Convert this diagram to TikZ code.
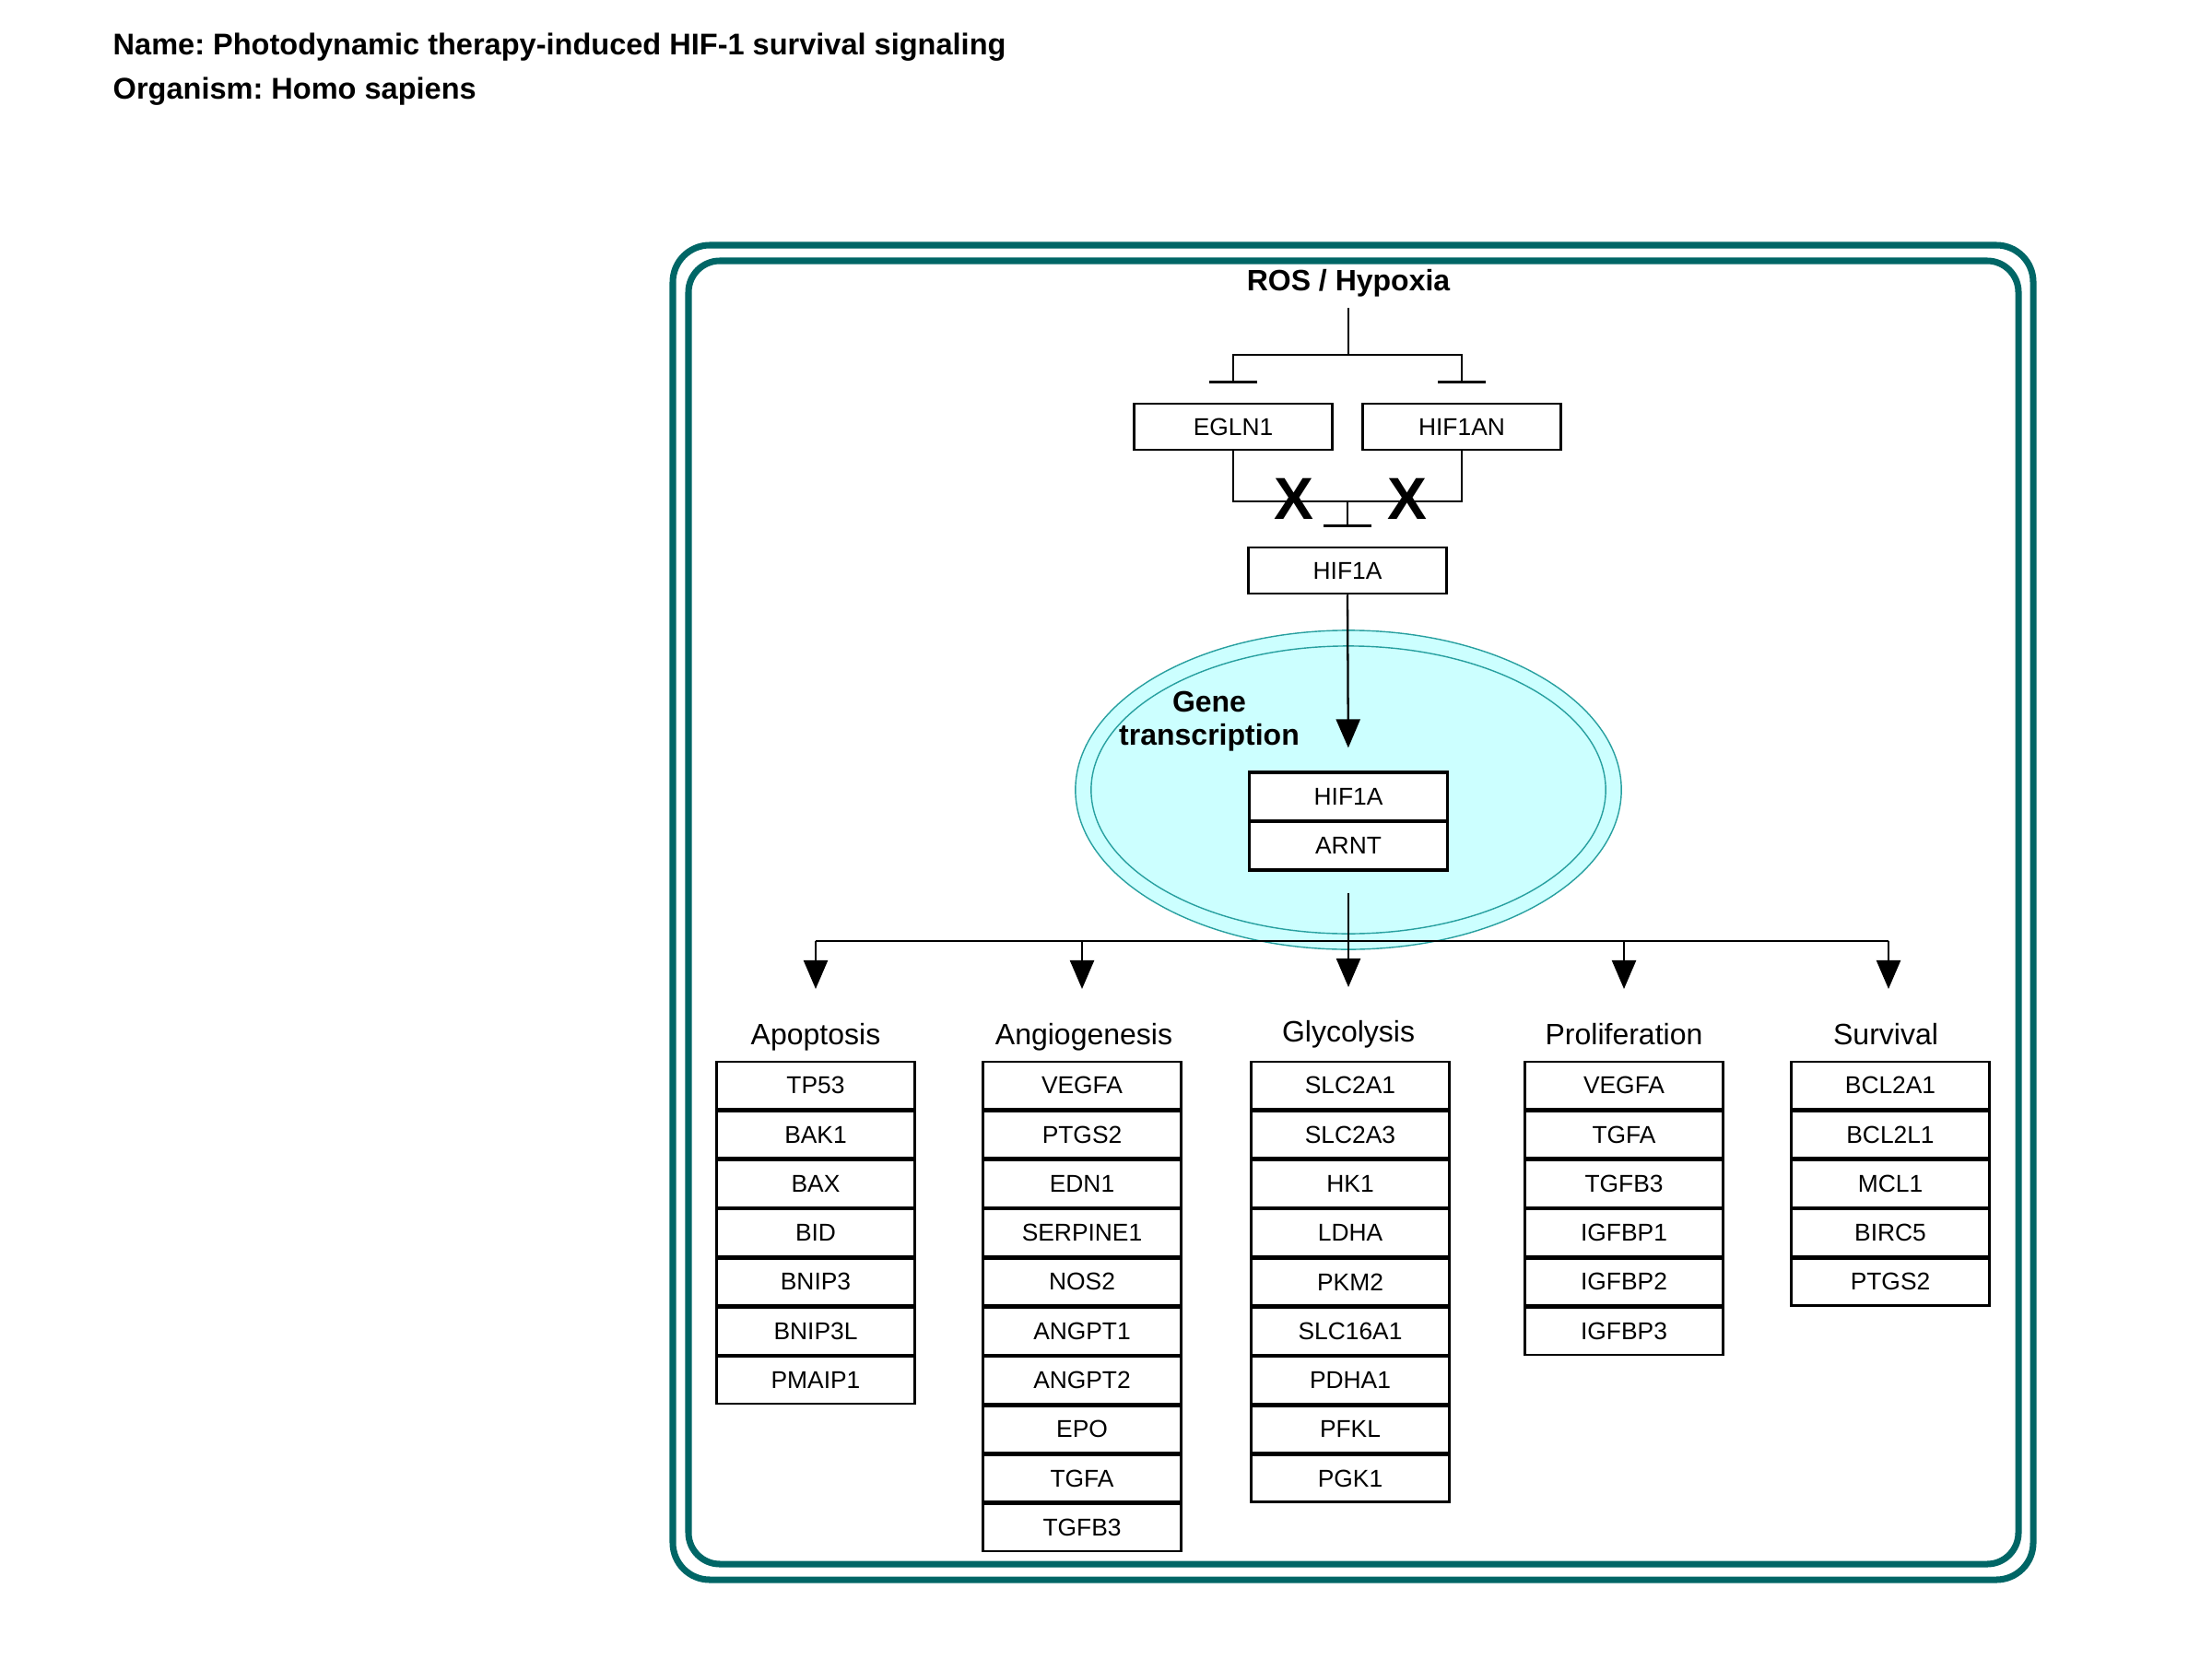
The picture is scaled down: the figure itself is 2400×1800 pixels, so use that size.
\documentclass[tikz,border=0pt]{standalone}
\usepackage{fontspec}
\setmainfont{Liberation Sans}
\usetikzlibrary{arrows.meta,shapes.geometric}
\definecolor{frameteal}{RGB}{0,102,102}
\definecolor{nucfill}{RGB}{204,255,255}
\definecolor{nucedge}{RGB}{40,160,160}
\newcommand{\genefont}{\fontsize{7.5pt}{9pt}\selectfont}
\newcommand{\lblfont}{\fontsize{9.1pt}{10pt}\selectfont}
\newcommand{\titlefont}{\fontsize{9.25pt}{11pt}\selectfont}
\newcommand{\crossfont}{\fontsize{18.3pt}{20pt}\selectfont}
\frenchspacing
\begin{document}
\begin{tikzpicture}[x=0.01cm,y=-0.01cm,
  gene/.style={draw=black, line width=0.7pt, fill=white, minimum width=2.15cm,
    minimum height=0.5cm, inner sep=0pt, font=\genefont},
  row/.style={gene, minimum height=0.51cm},
  link/.style={line width=0.65pt},
  arr/.style={link, -{Triangle[length=0.31cm,width=0.26cm]}},
  inh/.style={link, -{Bar[width=0.52cm,line width=0.65pt]}},
  grp/.style={font=\lblfont, anchor=base, inner sep=0pt},
  head/.style={font=\bfseries\lblfont, inner sep=0pt},
  cross/.style={font=\bfseries\crossfont, inner sep=0pt},
  ]
\useasboundingbox (0,0) rectangle (2400,1800);

% header
\node[anchor=base west, font=\bfseries\titlefont, inner sep=0pt] (title) at (122,60)
  {Name: Photodynamic therapy-induced HIF-1 survival signaling};
\node[anchor=base west, font=\bfseries\titlefont, inner sep=0pt] (organism) at (122,108)
  {Organism: Homo sapiens};

% cell boundary (double rounded frame)
\draw[frameteal, line width=2pt, rounded corners=0.4cm] (730,266) rectangle (2206,1714);
\draw[frameteal, line width=2pt, rounded corners=0.34cm] (747,283) rectangle (2190,1697);

% nucleus
\node[ellipse, draw=nucedge, line width=0.4pt, fill=nucfill,
  minimum width=5.92cm, minimum height=3.46cm, inner sep=0pt] (nucleus) at (1463,857) {};
\draw[nucedge, line width=0.4pt] (nucleus.center) ellipse [x radius=2.79cm, y radius=1.56cm];
\node[head, anchor=base, align=center] (gt) at (1312,808) {Gene\\transcription};

% stimulus and oxygen sensors
\node[head, anchor=base] (ros) at (1463,315) {ROS / Hypoxia};
\node[gene] (egln1) at (1338,463) {EGLN1};
\node[gene] (hif1an) at (1586,463) {HIF1AN};
\node[gene] (hif1a) at (1462,619) {HIF1A};

\coordinate (rosfoot) at (1463,334);
\coordinate (fork) at (1463,385);
\draw[link] (rosfoot) -- (fork);
\draw[inh] (fork) -| ([yshift=0.21cm]egln1.north);
\draw[inh] (fork) -| ([yshift=0.21cm]hif1an.north);

\coordinate (merge) at (1462,544);
\draw[link] (egln1.south) |- (merge) -| (hif1an.south);
\draw[inh] (merge) -- ([yshift=0.21cm]hif1a.north);
\node[cross] (x1) at (1404,541) {X};
\node[cross] (x2) at (1527,541) {X};

% HIF-1 complex
\node[gene, line width=0.9pt, minimum height=0.53cm] (cxa) at (1463,864.5) {HIF1A};
\node[gene, line width=0.9pt, minimum height=0.53cm] (cxb) at (1463,917.5) {ARNT};
\draw[arr, shorten >=0.25cm] (hif1a.south) -- (cxa.north);

% target gene distribution
\coordinate (busL) at (885,1021);
\coordinate (busR) at (2049,1021);
\coordinate (tipApo) at (885,1073);
\coordinate (tipAng) at (1174,1073);
\coordinate (tipGly) at (1463,1071);
\coordinate (tipPro) at (1762,1073);
\coordinate (tipSur) at (2049,1073);
\draw[link] (busL) -- (busR);
\draw[arr] (busL) -- (tipApo);
\draw[arr] (busL -| tipAng) -- (tipAng);
\draw[arr] (busR -| tipPro) -- (tipPro);
\draw[arr] (busR) -- (tipSur);
\draw[arr, shorten <=0.23cm] (cxb.south) -- (tipGly);

% gene groups
\node[grp] (apoL) at (885,1133) {Apoptosis};
\node[grp] (angL) at (1176,1133) {Angiogenesis};
\node[grp] (glyL) at (1463,1130) {Glycolysis};
\node[grp] (proL) at (1762,1133) {Proliferation};
\node[grp] (surL) at (2046,1133) {Survival};

\foreach \g [count=\i from 0] in {TP53,BAK1,BAX,BID,BNIP3,BNIP3L,PMAIP1}
  \node[row] (apo\i) at (885,{1177.7+53.3*\i}) {\g};
\foreach \g [count=\i from 0] in {VEGFA,PTGS2,EDN1,SERPINE1,NOS2,ANGPT1,ANGPT2,EPO,TGFA,TGFB3}
  \node[row] (ang\i) at (1174,{1177.7+53.3*\i}) {\g};
\foreach \g [count=\i from 0] in {SLC2A1,SLC2A3,HK1,LDHA,PKM2,SLC16A1,PDHA1,PFKL,PGK1}
  \node[row] (gly\i) at (1465,{1177.7+53.3*\i}) {\g};
\foreach \g [count=\i from 0] in {VEGFA,TGFA,TGFB3,IGFBP1,IGFBP2,IGFBP3}
  \node[row] (pro\i) at (1762,{1177.7+53.3*\i}) {\g};
\foreach \g [count=\i from 0] in {BCL2A1,BCL2L1,MCL1,BIRC5,PTGS2}
  \node[row] (sur\i) at (2051,{1177.7+53.3*\i}) {\g};
\end{tikzpicture}
\end{document}
